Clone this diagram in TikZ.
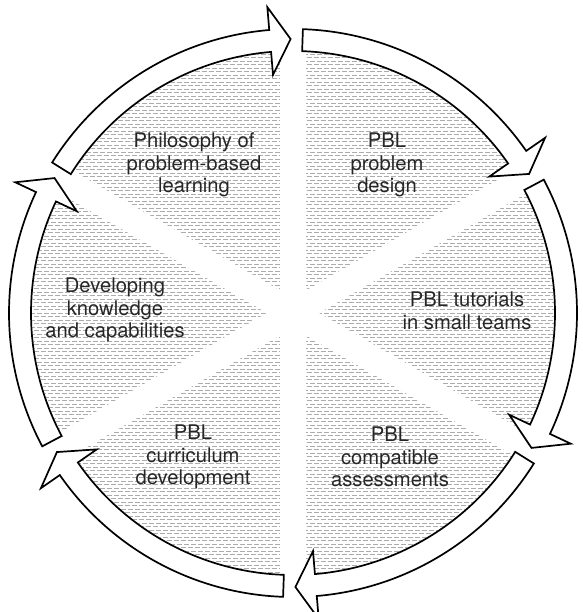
\documentclass[tikz,border=0pt]{standalone}
\usepackage{fontspec}
\setmainfont{TeX Gyre Heros}
\begin{document}
\begin{tikzpicture}[
  arrowshape/.style={draw=black, fill=white, line width=1.7pt, line join=miter},
  hatchline/.style={draw=gray!65, line width=0.95pt, dash pattern=on 5pt off 2pt},
  gapband/.style={draw=white, line width=26pt},
  lbl/.style={align=center, font=\fontsize{20.2}{22.5}\selectfont, text=black!85, inner sep=0pt}
]
\useasboundingbox (0pt,0pt) rectangle (582pt,612pt);
\begin{scope}[shift={(293pt,299pt)}]
  \begin{scope}
    \clip (0pt,0pt) circle (261pt);
    \foreach \i in {0,...,152} {
      \pgfmathsetmacro\yy{-266+3.5*\i}
      \pgfmathsetmacro\ph{mod(\i,2)*3.5}
      \draw[hatchline, dash phase=\ph pt] (-270pt,\yy pt) -- (270pt,\yy pt);
    }
  \end{scope}
  \foreach \a in {90,30,-30} \draw[gapband] (\a:275pt) -- (\a+180:275pt);
  \foreach \g in {150,90,30,-30,-90,-150} {
    \pgfmathsetmacro\ta{\g-2}
    \pgfmathsetmacro\tp{\g-60+0.5}
    \pgfmathsetmacro\hb{\tp+4.3}
    \draw[arrowshape] (\ta:284pt) arc[start angle=\ta, end angle=\hb, radius=284pt]
      -- (\hb:307pt) -- (\tp:274pt) -- (\hb:239pt) -- (\hb:262pt)
      arc[start angle=\hb, end angle=\ta, radius=262pt] -- cycle;
  }
\end{scope}
\node[lbl] (philo) at (194pt,447pt) {Philosophy of\\problem-based\\learning};
\node[lbl] (design) at (387pt,447pt) {PBL\\problem\\design};
\node[lbl] (tutor) at (467pt,301pt) {PBL tutorials\\in small teams};
\node[lbl] (assess) at (390pt,155pt) {PBL\\compatible\\assessments};
\node[lbl] (curric) at (193pt,155pt) {PBL\\curriculum\\development};
\node[lbl] (devel) at (115pt,302pt) {Developing\\knowledge\\and capabilities};
\end{tikzpicture}
\end{document}
